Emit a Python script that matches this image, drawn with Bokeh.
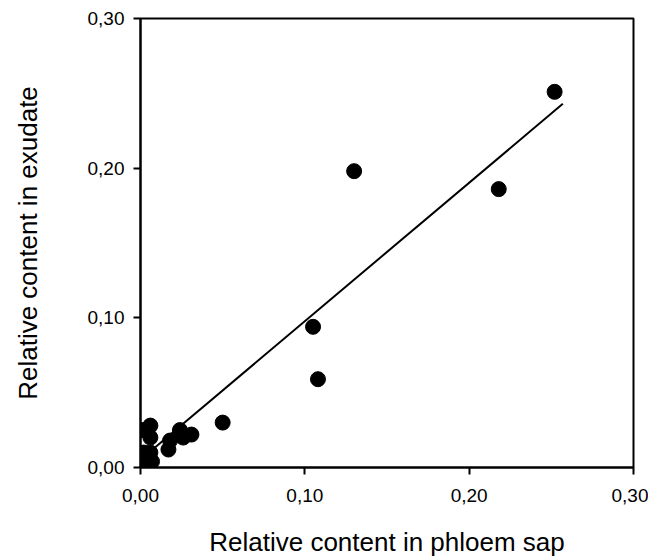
from bokeh.plotting import figure
from bokeh.models import FixedTicker, CustomJSTickFormatter, Range1d
from bokeh.embed import file_html
from bokeh.resources import INLINE

# Data
phloem = [0.001, 0.006, 0.006, 0.002, 0.004, 0.001, 0.007, 0.006, 0.017, 0.018,
          0.024, 0.026, 0.031, 0.050, 0.105, 0.108, 0.130, 0.218, 0.252]
exudate = [0.025, 0.028, 0.020, 0.010, 0.006, 0.002, 0.004, 0.010, 0.012, 0.018,
           0.025, 0.020, 0.022, 0.030, 0.094, 0.059, 0.198, 0.186, 0.251]
fit_x = [0.003, 0.257]
fit_y = [0.008, 0.243]
ticks = [0.0, 0.1, 0.2, 0.3]

FONT = "Liberation Sans"

p = figure(width=648, height=559, output_backend="svg", toolbar_location=None,
           x_range=Range1d(0, 0.3), y_range=Range1d(0, 0.3),
           min_border_left=140, min_border_right=15, min_border_top=18,
           min_border_bottom=91)

p.line(fit_x, fit_y, line_color="black", line_width=2)
p.scatter(phloem, exudate, size=15, fill_color="black", line_color="black")

p.grid.visible = False
p.outline_line_color = "black"
p.outline_line_width = 2
p.outline_line_alpha = 1

fmt = CustomJSTickFormatter(code="return tick.toFixed(2).replace('.', ',');")
for ax in (p.xaxis[0], p.yaxis[0]):
    ax.ticker = FixedTicker(ticks=ticks)
    ax.formatter = fmt
    ax.axis_line_width = 2
    ax.axis_line_color = "black"
    ax.major_tick_line_width = 2
    ax.major_tick_in = 0
    ax.major_tick_out = 7
    ax.minor_tick_line_color = None
    ax.major_label_text_font = FONT
    ax.major_label_text_font_size = "19px"
    ax.major_label_text_color = "black"
    ax.axis_label_text_font = FONT
    ax.axis_label_text_font_size = "26px"
    ax.axis_label_text_font_style = "normal"
    ax.axis_label_text_color = "black"

p.xaxis.axis_label = "Relative content in phloem sap"
p.yaxis.axis_label = "Relative content in exudate"
p.xaxis.major_label_standoff = 14
p.xaxis.axis_label_standoff = 22
p.yaxis.major_label_standoff = 9
p.yaxis.axis_label_standoff = 42

open("out.html", "w").write(file_html(p, INLINE))
